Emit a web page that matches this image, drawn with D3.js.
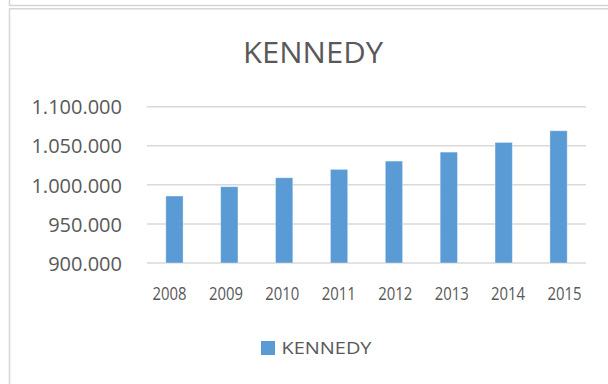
<!DOCTYPE html>
<html>
<head>
<meta charset="utf-8">
<script src="https://cdn.jsdelivr.net/npm/d3@7"></script>
<style>
  html, body { margin: 0; padding: 0; background: #ffffff; }
  svg { display: block; }
  text { font-family: "Open Sans", "Liberation Sans", sans-serif; fill: #595959; }
</style>
</head>
<body>
<svg id="chart" width="608" height="384"></svg>
<script>
const title = "KENNEDY";
const seriesName = "KENNEDY";
const years = ["2008", "2009", "2010", "2011", "2012", "2013", "2014", "2015"];
const values = [985700, 997600, 1009100, 1019800, 1030400, 1041900, 1054300, 1069200];
const yTicks = [900000, 950000, 1000000, 1050000, 1100000];

const barColor = "#5B9BD5";
const gridColor = "#D9D9D9";

const svg = d3.select("#chart");

// frames
svg.append("path")
  .attr("d", "M9.5,0 V5.5 H608")
  .attr("fill", "none").attr("stroke", "#d6d6d6").attr("stroke-width", 1.5);
svg.append("path")
  .attr("d", "M9.5,400 V8.75 H608")
  .attr("fill", "none").attr("stroke", "#d6d6d6").attr("stroke-width", 1.5);

const locale = d3.formatLocale({ decimal: ",", thousands: ".", grouping: [3], currency: ["", ""] });
const fmt = locale.format(",d");

const x = d3.scaleBand().domain(years).range([147, 586]).paddingInner(0.685).paddingOuter(0.3425);
const xLabel = d3.scalePoint().domain(years).range([169, 564]);
const y = d3.scaleLinear().domain([900000, 1100000]).range([263, 106.7]);

// gridlines
svg.append("g").selectAll("line").data(yTicks).join("line")
  .attr("x1", 147).attr("x2", 586)
  .attr("y1", d => y(d)).attr("y2", d => y(d))
  .attr("stroke", gridColor).attr("stroke-width", 1.5);

// bars
svg.append("g").selectAll("rect").data(values).join("rect")
  .attr("x", (d, i) => x(years[i]))
  .attr("width", x.bandwidth())
  .attr("y", d => y(d))
  .attr("height", d => y(900000) - y(d))
  .attr("fill", barColor)
  .attr("stroke", "rgba(255,255,255,0.45)")
  .attr("stroke-width", 0.8);

// y axis labels
const yAxis = d3.axisLeft(y).tickValues(yTicks).tickFormat(fmt).tickSize(0).tickPadding(0);
const gy = svg.append("g").attr("transform", "translate(122,0)").call(yAxis);
gy.select(".domain").remove();
gy.selectAll("text")
  .attr("font-size", 20)
  .attr("font-family", "'Open Sans', sans-serif")
  .attr("fill", "#595959")
  .attr("dy", "0.36em");

// x axis labels
const xAxis = d3.axisBottom(xLabel).tickSize(0).tickPadding(0);
const gx = svg.append("g").attr("transform", "translate(0,300)").call(xAxis);
gx.select(".domain").remove();
gx.selectAll("text")
  .attr("font-size", 18.5)
  .attr("font-family", "'Open Sans', sans-serif")
  .attr("fill", "#595959")
  .attr("dy", 0)
  .attr("y", 0)
  .attr("textLength", 34)
  .attr("lengthAdjust", "spacingAndGlyphs");

// title
svg.append("text")
  .attr("x", 313).attr("y", 63.3)
  .attr("text-anchor", "middle")
  .attr("font-size", 30)
  .attr("textLength", 140)
  .attr("lengthAdjust", "spacingAndGlyphs")
  .text(title);

// legend
const lg = svg.append("g");
lg.append("rect").attr("x", 261).attr("y", 341).attr("width", 14).attr("height", 14).attr("fill", barColor);
lg.append("text")
  .attr("x", 281.5).attr("y", 354)
  .attr("font-size", 17.2)
  .attr("textLength", 90)
  .attr("lengthAdjust", "spacingAndGlyphs")
  .text(seriesName);
</script>
</body>
</html>
